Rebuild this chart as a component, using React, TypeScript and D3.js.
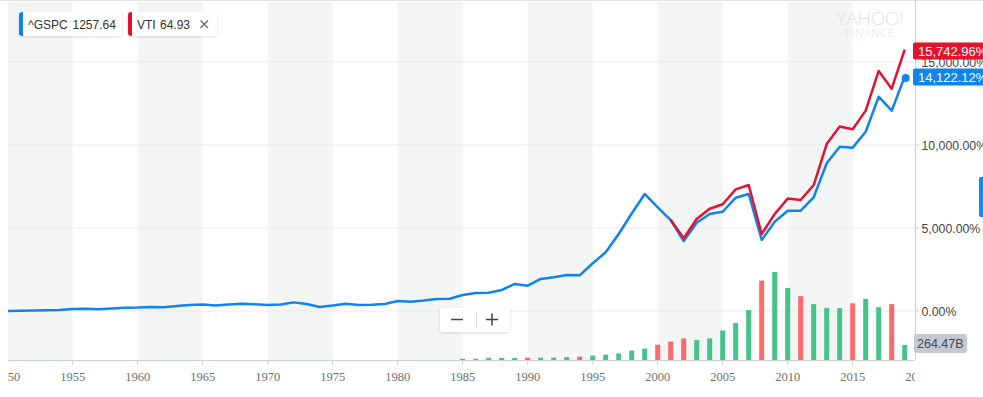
import React, { useRef, useEffect } from 'react';
import * as d3 from 'd3';

// ^GSPC % change since 1950 (one point per year start)
const spxYears = d3.range(1950, 2020);
const spxPct = [
    0, 18, 30, 42, 60, 120, 140, 100, 150, 200,
    210, 240, 220, 300, 360, 390, 330, 390, 440, 400,
    360, 390, 520, 420, 240, 330, 440, 360, 370, 420,
    600, 560, 630, 720, 740, 960, 1080, 1100, 1265, 1630,
    1525, 1930, 2030, 2170, 2150, 2875, 3535, 4640, 5875, 7050,
    6245, 5480, 4215, 5320, 5845, 5980, 6825, 7050, 4275, 5380,
    6040, 6040, 6850, 8900, 9900, 9840, 10800, 12910, 12065, 14122.12,
];

// VTI, compared from 2001
const vtiYears = d3.range(2001, 2020);
const vtiPct = [
    5480, 4380, 5540, 6160, 6430, 7330, 7590, 4640, 5845, 6770,
    6690, 7590, 10060, 11110, 10950, 12070, 14460, 13390, 15742.96,
];

// volume, billions
const volYears = d3.range(1985, 2020);
const volume = [
    22, 22, 38, 36, 38, 40, 40, 42, 52, 60,
    78, 95, 115, 165, 200, 270, 325, 380, 350, 380,
    520, 650, 880, 1400, 1550, 1270, 1125, 985, 915, 915,
    1000, 1075, 930, 985, 264.47,
];
const downYears = [1990, 1994, 2000, 2001, 2002, 2008, 2011, 2015, 2018];

const yTicks = [0, 5000, 10000, 15000];
const xTicks = d3.range(1950, 2025, 5);
const shadedSpans = [1950, 1960, 1970, 1980, 1990, 2000, 2010];

const blue = '#0f84ee';
const red = '#e3132f';

const App: React.FC = () => {
    const svgRef = useRef<SVGSVGElement | null>(null);
    const width = 983;
    const height = 397;

    useEffect(() => {
        if (!svgRef.current) return;
        const svg = d3.select(svgRef.current);
        svg.selectAll('*').remove();

        const left = 8;
        const right = 915;
        const bottom = 360;

        const x = d3.scaleLinear().domain([1950, 2020]).range([7.7, 917.7]);
        const y = d3.scaleLinear().domain([0, 15000]).range([311, 62]);
        const yVol = d3.scaleLinear().domain([0, 1600]).range([bottom, 269.2]);

        const defs = svg.append('defs');
        defs.append('clipPath').attr('id', 'plot-clip')
            .append('rect').attr('x', left).attr('y', 0).attr('width', right - left).attr('height', height);
        const shadow = defs.append('filter').attr('id', 'soft-shadow')
            .attr('x', '-20%').attr('y', '-40%').attr('width', '140%').attr('height', '180%');
        shadow.append('feDropShadow').attr('dx', 0).attr('dy', 1).attr('stdDeviation', 1.5)
            .attr('flood-color', '#000').attr('flood-opacity', 0.13);

        svg.append('rect').attr('width', width).attr('height', height).attr('fill', '#fff');

        const plot = svg.append('g').attr('clip-path', 'url(#plot-clip)');

        // shaded 5-year bands
        plot.selectAll('rect.band')
            .data(shadedSpans)
            .join('rect')
            .attr('class', 'band')
            .attr('x', (d) => x(d))
            .attr('y', 2)
            .attr('width', (d) => x(d + 5) - x(d))
            .attr('height', bottom - 2)
            .attr('fill', '#f4f5f5');

        // top border + gridlines
        svg.append('line').attr('x1', 0).attr('x2', width).attr('y1', 0.5).attr('y2', 0.5)
            .attr('stroke', '#e3e3e3');
        plot.selectAll('line.grid')
            .data(yTicks)
            .join('line')
            .attr('class', 'grid')
            .attr('x1', left).attr('x2', right)
            .attr('y1', (d) => y(d)).attr('y2', (d) => y(d))
            .attr('stroke', '#ebebeb');

        // Yahoo watermark
        svg.append('text').attr('x', 870).attr('y', 25).attr('text-anchor', 'middle')
            .attr('font-family', 'Open Sans, Liberation Sans, sans-serif').attr('font-weight', 300)
            .attr('font-size', 19).attr('fill', '#e3e3e3').attr('letter-spacing', -0.3).text('YAHOO!');
        svg.append('text').attr('x', 870).attr('y', 37).attr('text-anchor', 'middle')
            .attr('font-family', 'Open Sans, Liberation Sans, sans-serif').attr('font-weight', 300)
            .attr('font-size', 10.5).attr('fill', '#e3e3e3').attr('letter-spacing', 1.2).text('FINANCE');

        // volume bars
        plot.selectAll('rect.vol')
            .data(volYears.map((yr, i) => ({ yr, v: volume[i] })))
            .join('rect')
            .attr('class', 'vol')
            .attr('x', (d) => x(d.yr) - 2.5)
            .attr('y', (d) => yVol(d.v))
            .attr('width', 5)
            .attr('height', (d) => bottom - yVol(d.v))
            .attr('fill', (d) => (downYears.includes(d.yr) ? '#fb6b6c' : '#45c48a'));

        // lines
        const line = d3.line<[number, number]>()
            .x((d) => x(d[0]))
            .y((d) => y(d[1]));

        plot.append('path')
            .datum(spxYears.map((yr, i) => [yr, spxPct[i]] as [number, number]))
            .attr('fill', 'none').attr('stroke', blue).attr('stroke-width', 2.5)
            .attr('stroke-linejoin', 'round').attr('d', line);
        plot.append('path')
            .datum(vtiYears.map((yr, i) => [yr, vtiPct[i]] as [number, number]))
            .attr('fill', 'none').attr('stroke', red).attr('stroke-width', 2.5)
            .attr('stroke-linejoin', 'round').attr('d', line);

        const lastYr = spxYears[spxYears.length - 1];
        svg.append('circle').attr('cx', x(lastYr) + 1).attr('cy', y(spxPct[spxPct.length - 1]) + 1.5)
            .attr('r', 4).attr('fill', blue);

        // bottom axis
        svg.append('line').attr('x1', left).attr('x2', right).attr('y1', bottom + 0.5).attr('y2', bottom + 0.5)
            .attr('stroke', '#cfcfcf');
        const xAxisG = svg.append('g').attr('clip-path', 'url(#plot-clip)');
        xAxisG.selectAll('line.xtick')
            .data(xTicks)
            .join('line')
            .attr('class', 'xtick')
            .attr('x1', (d) => x(d)).attr('x2', (d) => x(d))
            .attr('y1', bottom).attr('y2', bottom + 5)
            .attr('stroke', '#cfcfcf');
        xAxisG.selectAll('text.xlabel')
            .data(xTicks)
            .join('text')
            .attr('class', 'xlabel')
            .attr('x', (d) => x(d))
            .attr('y', 381)
            .attr('text-anchor', 'middle')
            .attr('font-family', 'Liberation Serif, serif')
            .attr('font-size', 12.5)
            .attr('fill', '#707070')
            .text((d) => String(d));

        // right axis
        svg.append('line').attr('x1', right + 0.5).attr('x2', right + 0.5).attr('y1', 0).attr('y2', bottom)
            .attr('stroke', '#cfcfcf');
        svg.selectAll('line.ytick')
            .data(yTicks)
            .join('line')
            .attr('class', 'ytick')
            .attr('x1', right).attr('x2', right + 4)
            .attr('y1', (d) => y(d)).attr('y2', (d) => y(d))
            .attr('stroke', '#cfcfcf');
        svg.selectAll('text.ylabel')
            .data(yTicks)
            .join('text')
            .attr('class', 'ylabel')
            .attr('x', 921.5)
            .attr('y', (d) => y(d) + 4.5)
            .attr('font-family', 'Liberation Sans, Arial, sans-serif')
            .attr('font-size', 12.3)
            .attr('fill', '#454545')
            .text((d) => d3.format(',.2f')(d) + '%');

        // end-value flags
        const flag = (cy: number, fill: string, txt: string) => {
            svg.append('rect').attr('x', 913).attr('y', cy - 8.5).attr('width', 80).attr('height', 17)
                .attr('rx', 2).attr('fill', fill);
            svg.append('text').attr('x', 918).attr('y', cy + 4.5)
                .attr('font-family', 'Liberation Sans, Arial, sans-serif').attr('font-size', 13)
                .attr('fill', '#fff').text(txt);
        };
        flag(51, red, d3.format(',.2f')(vtiPct[vtiPct.length - 1]) + '%');
        flag(77, blue, d3.format(',.2f')(spxPct[spxPct.length - 1]) + '%');
        svg.append('rect').attr('x', 914).attr('y', 334).attr('width', 53).attr('height', 19)
            .attr('rx', 3).attr('fill', '#c5c8d0');
        svg.append('text').attr('x', 917).attr('y', 348)
            .attr('font-family', 'Liberation Sans, Arial, sans-serif').attr('font-size', 12.5)
            .attr('fill', '#434a54').text(volume[volume.length - 1] + 'B');

        // side tab
        svg.append('rect').attr('x', 979).attr('y', 177).attr('width', 6).attr('height', 40)
            .attr('rx', 2).attr('fill', '#1a86ec');

        // legend chips
        const legend = [
            { name: '^GSPC', value: '1257.64', color: blue, x: 19, w: 103, valueX: 72.5, close: false },
            { name: 'VTI', value: '64.93', color: red, x: 128, w: 89, valueX: 160, close: true },
        ];
        legend.forEach((item) => {
            const g = svg.append('g');
            g.append('rect').attr('x', item.x).attr('y', 12).attr('width', item.w).attr('height', 24)
                .attr('rx', 3).attr('fill', '#fff').attr('filter', 'url(#soft-shadow)');
            g.append('path')
                .attr('d', `M${item.x + 4},12 H${item.x + 3} a3,3 0 0 0 -3,3 V33 a3,3 0 0 0 3,3 H${item.x + 4} Z`)
                .attr('fill', item.color);
            g.append('rect').attr('x', item.x).attr('y', 14).attr('width', 4).attr('height', 20).attr('fill', item.color);
            g.append('text').attr('x', item.x + 9).attr('y', 28.5)
                .attr('font-family', 'Liberation Sans, Arial, sans-serif').attr('font-size', 12)
                .attr('fill', '#333').text(item.name);
            g.append('text').attr('x', item.valueX).attr('y', 28.5)
                .attr('font-family', 'Liberation Sans, Arial, sans-serif').attr('font-size', 12)
                .attr('fill', '#333').text(item.value);
            if (item.close) {
                g.append('path').attr('d', 'M200.5,20.5 L208,28 M208,20.5 L200.5,28')
                    .attr('stroke', '#666').attr('stroke-width', 1.3);
            }
        });

        // zoom buttons
        const zb = svg.append('g');
        zb.append('rect').attr('x', 440).attr('y', 308).attr('width', 70).attr('height', 24)
            .attr('rx', 3).attr('fill', '#fff').attr('filter', 'url(#soft-shadow)');
        zb.append('line').attr('x1', 451).attr('x2', 463).attr('y1', 319.5).attr('y2', 319.5)
            .attr('stroke', '#444').attr('stroke-width', 1.5);
        zb.append('line').attr('x1', 476.5).attr('x2', 476.5).attr('y1', 312).attr('y2', 327)
            .attr('stroke', '#ddd');
        zb.append('line').attr('x1', 486).attr('x2', 498).attr('y1', 319.5).attr('y2', 319.5)
            .attr('stroke', '#444').attr('stroke-width', 1.5);
        zb.append('line').attr('x1', 492).attr('x2', 492).attr('y1', 313.5).attr('y2', 325.5)
            .attr('stroke', '#444').attr('stroke-width', 1.5);
    }, []);

    return (
        <svg
            ref={svgRef}
            width={width}
            height={height}
            style={{ position: 'absolute', left: 0, top: 0, display: 'block' }}
        />
    );
};

export default App;
